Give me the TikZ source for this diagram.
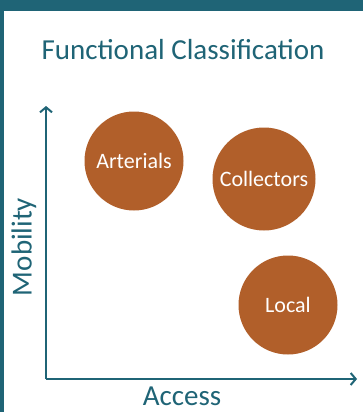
\documentclass[tikz,border=0pt]{standalone}
\usepackage{fontspec}
\setmainfont{Carlito}
\usetikzlibrary{positioning,arrows.meta}
\definecolor{frame}{RGB}{31,100,118}
\definecolor{road}{RGB}{177,95,42}

\begin{document}
\begin{tikzpicture}[x=1pt,y=-1pt]
    \tikzstyle{class}=[circle, fill=road, text=white, minimum size=99pt, inner sep=0pt, font=\fontsize{22}{26}\selectfont]
    \tikzstyle{axis}=[frame, line width=2.4pt, -{Straight Barb[length=5pt,width=12pt,line width=2pt]}]
    \tikzstyle{label}=[text=frame, font=\fontsize{29}{34}\selectfont]
    \useasboundingbox (0,0) rectangle (363,412);
    \fill[white] (0,0) rectangle (363,412);
    \fill[frame] (0,0) rectangle (363,11);
    \fill[frame] (0,0) rectangle (4,412);

    \node[label] (title) at (183,50) {Functional Classification};

    \coordinate (origin) at (46,379);
    \coordinate (ytip) at (46,106);
    \coordinate (xtip) at (357,379);
    \draw[axis] (origin) -- (ytip);
    \draw[axis] (origin) -- (xtip);
    \node[label,rotate=90] (mobility) at (24,247) {Mobility};
    \node[label] (access) at (182,396) {Access};

    \node[class] (arterials) at (134,161) {Arterials};
    \node[class,minimum size=103pt] (collectors) at (264,179) {Collectors};
    \node[class] (local) at (288,305) {Local};
\end{tikzpicture}
\end{document}
